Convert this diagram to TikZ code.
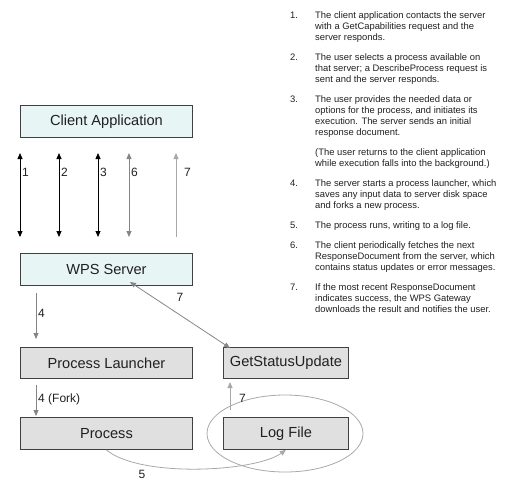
\documentclass[tikz,border=0pt]{standalone}
\usepackage{fontspec}
\setmainfont{Liberation Sans}
\usetikzlibrary{arrows.meta,shapes.geometric}
\definecolor{cyanfill}{HTML}{E8F5F5}
\definecolor{grayfill}{HTML}{E0E0E0}
\definecolor{boxline}{HTML}{404040}
\definecolor{midgray}{HTML}{858585}
\definecolor{lightgray}{HTML}{A8A8A8}
\definecolor{txt}{HTML}{202020}
\begin{document}
\begin{tikzpicture}[x=1pt,y=-1pt,
  box/.style={draw=boxline,line width=0.9pt,inner sep=0pt,anchor=north west,
    text=txt,font=\fontsize{14.6}{18}\selectfont},
  cbox/.style={box,fill=cyanfill},
  gbox/.style={box,fill=grayfill},
  tip/.style={-{Triangle[length=6pt,width=5pt]}},
  dtip/.style={{Triangle[length=6pt,width=5pt]}-{Triangle[length=6pt,width=5pt]}},
  lbl/.style={font=\fontsize{12}{14}\selectfont,inner sep=0pt,text=txt},
  num/.style={font=\fontsize{9.4}{11}\selectfont,inner sep=0pt,anchor=base west,text=txt},
  item/.style={font=\fontsize{9.4}{11}\selectfont,inner sep=0pt,anchor=north west,align=left,text=txt},
]
\useasboundingbox (0,0) rectangle (505,482);

% boxes
\node[cbox,minimum width=172pt,minimum height=32pt] (client) at (20,105) {Client Application};
\node[cbox,minimum width=172pt,minimum height=32pt] (wps) at (20,253) {WPS Server};
\node[gbox,minimum width=172pt,minimum height=31pt] (launcher) at (20,347) {Process Launcher};
\node[gbox,minimum width=125pt,minimum height=31pt] (status) at (223,347) {GetStatusUpdate};
\node[gbox,minimum width=172pt,minimum height=32pt] (process) at (20,417) {Process};
\node[gbox,minimum width=125pt,minimum height=32pt] (logfile) at (223,417) {Log File};

% ellipse around log file
\node[draw=lightgray,line width=0.8pt,ellipse,minimum width=156pt,minimum height=77pt,inner sep=0pt] (ring) at (285,433.5) {};

% vertical arrows between client and server
\foreach \n/\x in {1/20,2/59,3/98,6/129,7/176}{
  \coordinate (t\n) at (\x,153);
  \coordinate (b\n) at (\x,237);
}
\draw[dtip,black,line width=0.8pt] (t1) -- (b1);
\draw[dtip,black,line width=0.8pt] (t2) -- (b2);
\draw[dtip,black,line width=0.8pt] (t3) -- (b3);
\draw[dtip,midgray,line width=0.8pt] (t6) -- (b6);
\draw[tip,lightgray,line width=0.8pt] (b7) -- (t7);
\node[lbl,anchor=west] (l1) at (22,172) {1};
\node[lbl,anchor=west] (l2) at (61,172) {2};
\node[lbl,anchor=west] (l3) at (100,172) {3};
\node[lbl,anchor=west] (l6) at (131,172) {6};
\node[lbl,anchor=west] (l7) at (184,172) {7};

% server to launcher
\coordinate (a4s) at (36,293);
\coordinate (a4e) at (36,339);
\draw[tip,midgray,line width=0.8pt] (a4s) -- (a4e);
\node[lbl,anchor=west] (l4) at (38,313) {4};

% diagonal 7
\coordinate (d7s) at (130,282);
\coordinate (d7e) at (230,348);
\draw[dtip,midgray,line width=0.8pt] (d7s) -- (d7e);
\node[lbl] (l7d) at (180,297) {7};

% fork
\coordinate (f4s) at (36,385);
\coordinate (f4e) at (36,416);
\draw[tip,midgray,line width=0.8pt] (f4s) -- (f4e);
\node[lbl,anchor=west] (lfork) at (38,399) {4 (Fork)};

% log to status
\coordinate (s7s) at (230,410);
\coordinate (s7e) at (230,382);
\draw[tip,lightgray,line width=0.8pt] (s7s) -- (s7e);
\node[lbl,anchor=west] (l7s) at (239,398) {7};

% curve 5
\draw[tip,lightgray,line width=0.8pt] (process.south) .. controls (140,478) and (255,472) .. (logfile.south);
\node[lbl] (l5) at (142,474) {5};

% right text
\node[num] (n1) at (290,18) {1.};
\node[item] (i1) at (315,11.2) {The client application contacts the server\\with a GetCapabilities request and the\\server responds.};
\node[num] (n2) at (290,60) {2.};
\node[item] (i2) at (315,53.2) {The user selects a process available on\\that server; a DescribeProcess request is\\sent and the server responds.};
\node[num] (n3) at (290,102) {3.};
\node[item] (i3) at (315,95.2) {The user provides the needed data or\\options for the process, and initiates its\\execution. The server sends an initial\\response document.};
\node[item] (ip) at (315,148.2) {(The user returns to the client application\\while execution falls into the background.)};
\node[num] (n4) at (290,186) {4.};
\node[item] (i4) at (315,179.2) {The server starts a process launcher, which\\saves any input data to server disk space\\and forks a new process.};
\node[num] (n5) at (290,228) {5.};
\node[item] (i5) at (315,221.2) {The process runs, writing to a log file.};
\node[num] (n6) at (290,248) {6.};
\node[item] (i6) at (315,241.2) {The client periodically fetches the next\\ResponseDocument from the server, which\\contains status updates or error messages.};
\node[num] (n7) at (290,290) {7.};
\node[item] (i7) at (315,283.2) {If the most recent ResponseDocument\\indicates success, the WPS Gateway\\downloads the result and notifies the user.};
\end{tikzpicture}
\end{document}
